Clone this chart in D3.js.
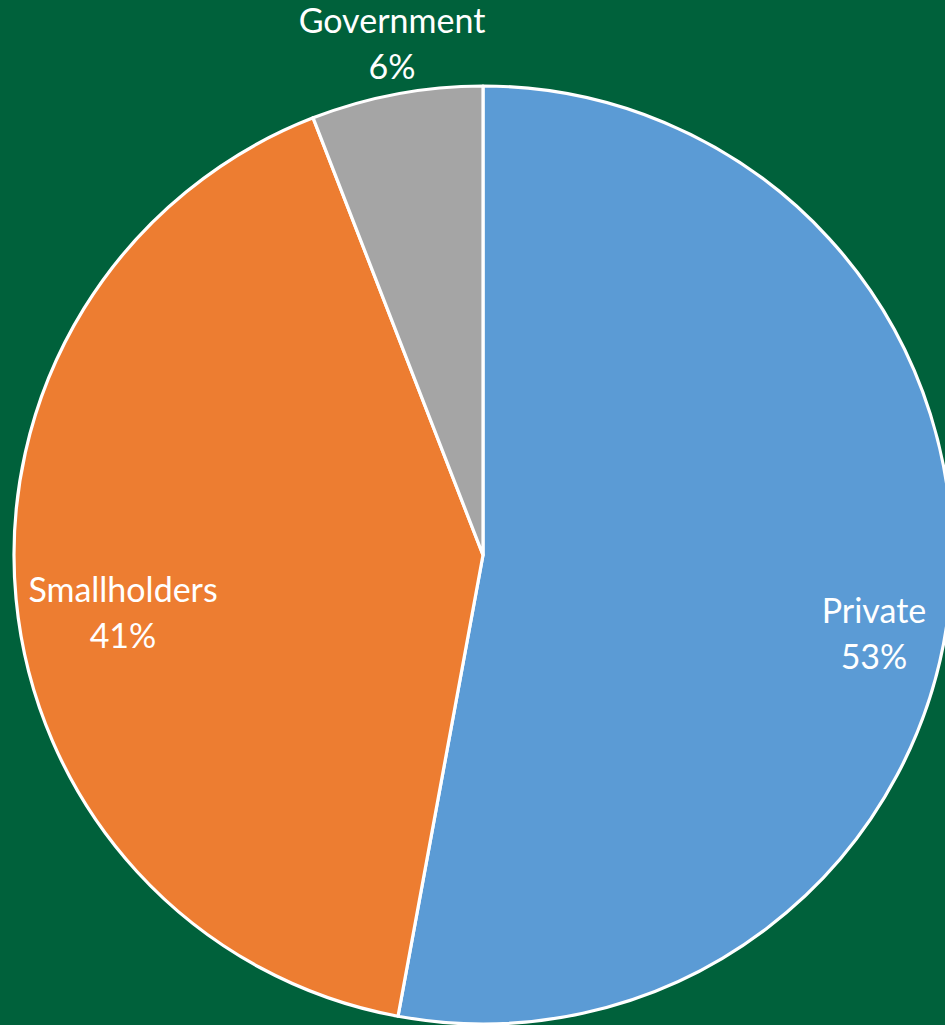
<!DOCTYPE html>
<html><head><meta charset="utf-8">
<script src="https://cdn.jsdelivr.net/npm/d3@7"></script>
<style>html,body{margin:0;padding:0;background:#00613B;}svg{display:block;}</style>
</head><body>
<script>
const categories = ["Private", "Smallholders", "Government"];
const values = [52.9, 41.2, 5.9];
const colors = ["#5B9BD5", "#ED7D31", "#A5A5A5"];

const W = 945, H = 1025, cx = 483, cy = 555, R = 469;
// label anchor (baseline of first line, centered) per slice — layout only
const labelAnchor = [[874, 623], [123, 602], [392, 33]];

const svg = d3.select("body").append("svg").attr("width", W).attr("height", H);
svg.append("rect").attr("width", W).attr("height", H).attr("fill", "#00613B");

const data = categories.map((c, i) => ({cat: c, value: values[i], color: colors[i], idx: i}));
const total = d3.sum(values);
const pie = d3.pie().value(d => d.value).sort(null).startAngle(0).endAngle(2 * Math.PI);
const arc = d3.arc().innerRadius(0).outerRadius(R);

const g = svg.append("g").attr("transform", `translate(${cx},${cy})`);
g.selectAll("path").data(pie(data)).join("path")
  .attr("d", arc)
  .attr("fill", d => d.data.color)
  .attr("stroke", "#fff")
  .attr("stroke-width", 3.2)
  .attr("stroke-linejoin", "round");

const fmt = v => Math.round(v / total * 100) + "%";
const lbl = svg.append("g").attr("font-family", "Lato, 'Open Sans', sans-serif")
  .attr("font-size", 34).attr("fill", "#fff").attr("text-anchor", "middle");
data.forEach((d, i) => {
  const [x, y] = labelAnchor[i];
  const t = lbl.append("text").attr("x", x).attr("y", y);
  t.append("tspan").attr("x", x).text(d.cat);
  t.append("tspan").attr("x", x).attr("dy", 45.5).text(fmt(d.value));
});
</script>
</body></html>
